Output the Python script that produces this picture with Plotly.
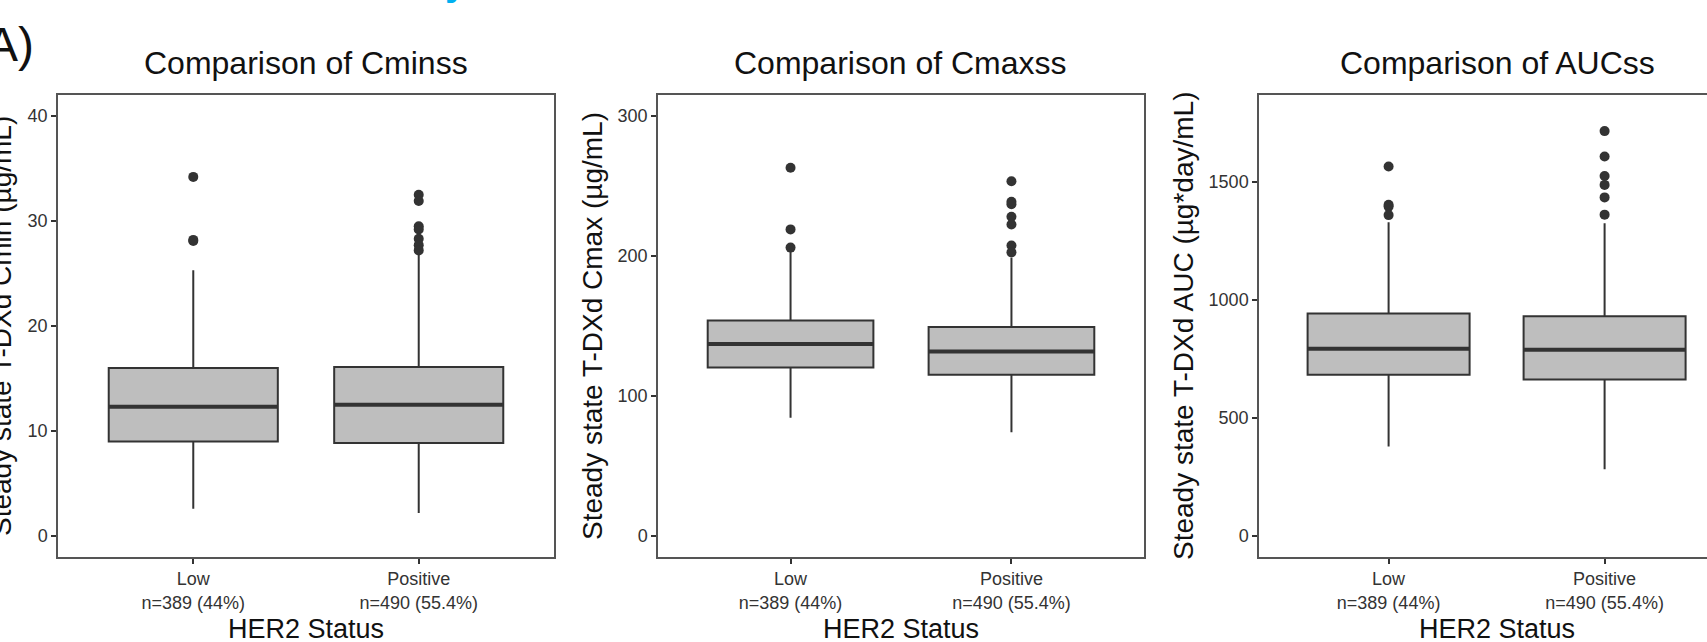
import plotly.graph_objects as go

# ---------------- data ----------------
categories = ["Low", "Positive"]
cat_labels = ["Low<br>n=389 (44%)", "Positive<br>n=490 (55.4%)"]
cat_pos = [1, 2]

titles = ["Comparison of Cminss", "Comparison of Cmaxss", "Comparison of AUCss"]
y_titles = ["Steady state T-DXd Cmin (µg/mL)",
            "Steady state T-DXd Cmax (µg/mL)",
            "Steady state T-DXd AUC (µg*day/mL)"]
x_title = "HER2 Status"

# Cmin
cmin_q1 = [9.0, 8.85]
cmin_med = [12.3, 12.5]
cmin_q3 = [16.0, 16.1]
cmin_lo = [2.6, 2.2]
cmin_hi = [25.3, 26.8]
cmin_out_low = [34.2, 28.1, 28.2]
cmin_out_pos = [32.5, 31.9, 29.5, 29.2, 28.3, 27.7, 27.2]

# Cmax
cmax_q1 = [120.4, 115.2]
cmax_med = [137.2, 131.8]
cmax_q3 = [154.0, 149.2]
cmax_lo = [84.5, 74.1]
cmax_hi = [203.0, 199.0]
cmax_out_low = [263.0, 219.0, 206.0]
cmax_out_pos = [253.4, 238.8, 237.0, 228.0, 222.5, 207.5, 202.6]

# AUC
auc_q1 = [683.0, 663.0]
auc_med = [794.0, 789.0]
auc_q3 = [943.0, 931.0]
auc_lo = [379.0, 283.0]
auc_hi = [1330.0, 1325.0]
auc_out_low = [1566.0, 1404.0, 1396.0, 1360.0]
auc_out_pos = [1716.0, 1608.0, 1526.0, 1488.0, 1435.0, 1362.0]

y_ticks = [[0, 10, 20, 30, 40], [0, 100, 200, 300], [0, 500, 1000, 1500]]
y_ranges = [[-2.0, 42.0], [-15.0, 315.0], [-89.0, 1869.0]]

panel_stats = [
    (cmin_q1, cmin_med, cmin_q3, cmin_lo, cmin_hi, cmin_out_low, cmin_out_pos),
    (cmax_q1, cmax_med, cmax_q3, cmax_lo, cmax_hi, cmax_out_low, cmax_out_pos),
    (auc_q1, auc_med, auc_q3, auc_lo, auc_hi, auc_out_low, auc_out_pos),
]

# ---------------- layout geometry ----------------
W, H = 1707, 642
FONT = "Liberation Sans, Arial, sans-serif"
DARK = "#333333"
BOX_W = 0.75

x_domains_px = [(58, 554), (658, 1144), (1259, 1707)]
x_ranges = [[0.4, 2.6], [0.4, 2.6], [0.4, 0.4 + 448 / 216.0]]
y_top_px, y_bot_px = 95, 557
y_domain = [1 - y_bot_px / H, 1 - y_top_px / H]
ytitle_x_px = [2, 593, 1184]
panel_centers_px = [(58 + 554) / 2, (658 + 1144) / 2, (1259 + 1735) / 2]

fig = go.Figure()

for i, (q1, med, q3, lo, hi, out_low, out_pos) in enumerate(panel_stats):
    xa = "x" if i == 0 else f"x{i+1}"
    ya = "y" if i == 0 else f"y{i+1}"
    fig.add_trace(go.Box(
        x=cat_pos, q1=q1, median=med, q3=q3, lowerfence=lo, upperfence=hi,
        width=BOX_W, fillcolor="#bebebe", line=dict(color=DARK, width=2),
        whiskerwidth=0, boxpoints=False, showlegend=False,
        xaxis=xa, yaxis=ya, hoverinfo="skip"))
    # thicker median line
    mx, my = [], []
    for c, m in zip(cat_pos, med):
        mx += [c - BOX_W / 2, c + BOX_W / 2, None]
        my += [m, m, None]
    fig.add_trace(go.Scatter(x=mx, y=my, mode="lines",
                             line=dict(color=DARK, width=4),
                             showlegend=False, xaxis=xa, yaxis=ya, hoverinfo="skip"))
    # outliers
    ox = [cat_pos[0]] * len(out_low) + [cat_pos[1]] * len(out_pos)
    oy = list(out_low) + list(out_pos)
    fig.add_trace(go.Scatter(x=ox, y=oy, mode="markers",
                             marker=dict(color=DARK, size=10),
                             showlegend=False, xaxis=xa, yaxis=ya, hoverinfo="skip"))

layout = dict(
    width=W, height=H,
    margin=dict(l=0, r=0, t=0, b=0),
    paper_bgcolor="white", plot_bgcolor="white",
    font=dict(family=FONT, color=DARK),
    showlegend=False,
)

annotations = []
for i in range(3):
    sx = "" if i == 0 else str(i + 1)
    x0, x1 = x_domains_px[i]
    layout[f"xaxis{sx}"] = dict(
        domain=[x0 / W, x1 / W], range=x_ranges[i],
        tickvals=cat_pos, ticktext=cat_labels,
        showline=True, linecolor="#555555", linewidth=1.5, mirror=True,
        ticks="outside", ticklen=5, tickwidth=1.5, tickcolor=DARK,
        showgrid=False, zeroline=False,
        tickfont=dict(family=FONT, size=18, color=DARK),
        anchor="y" if i == 0 else f"y{i+1}", fixedrange=True)
    layout[f"yaxis{sx}"] = dict(
        domain=y_domain, range=y_ranges[i], tickvals=y_ticks[i],
        showline=True, linecolor="#555555", linewidth=1.5, mirror=(i < 2),
        ticks="outside", ticklen=5, tickwidth=1.5, tickcolor=DARK,
        showgrid=False, zeroline=False,
        tickfont=dict(family=FONT, size=18, color=DARK),
        anchor="x" if i == 0 else f"x{i+1}", fixedrange=True)
    # panel title
    annotations.append(dict(text=titles[i], xref="paper", yref="paper",
                            x=panel_centers_px[i] / W,
                            y=1 - 63 / H, xanchor="center", yanchor="middle",
                            showarrow=False, font=dict(family=FONT, size=32, color="#111111")))
    # y title
    annotations.append(dict(text=y_titles[i], xref="paper", yref="paper",
                            x=ytitle_x_px[i] / W, y=1 - 326 / H, textangle=-90,
                            xanchor="center", yanchor="middle", showarrow=False,
                            font=dict(family=FONT, size=28, color="#111111")))
    # x title
    annotations.append(dict(text=x_title, xref="paper", yref="paper",
                            x=panel_centers_px[i] / W, y=1 - 629 / H,
                            xanchor="center", yanchor="middle", showarrow=False,
                            font=dict(family=FONT, size=27, color="#111111")))

# panel tag
annotations.append(dict(text="A)", xref="paper", yref="paper",
                        x=36 / W, y=1 - 44 / H, xanchor="right", yanchor="middle",
                        showarrow=False, font=dict(family=FONT, size=48, color="#111111")))
# cut-off cyan heading fragment at the very top
annotations.append(dict(text="<b>y</b>", xref="paper", yref="paper",
                        x=456 / W, y=1 + 19 / H, xanchor="center", yanchor="middle",
                        showarrow=False, font=dict(family=FONT, size=40, color="#00b0f0")))

layout["annotations"] = annotations
fig.update_layout(**layout)
fig.write_html("out.html",
               config={"displayModeBar": False},
               post_script="document.body.style.margin='0';document.body.style.overflow='hidden';")
